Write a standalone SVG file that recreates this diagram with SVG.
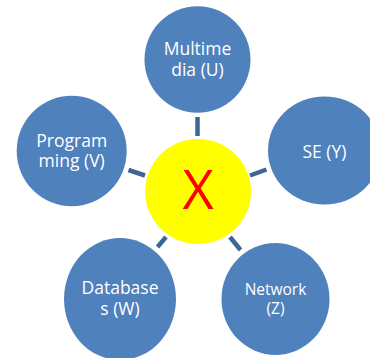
<svg xmlns="http://www.w3.org/2000/svg" width="370" height="358" viewBox="0 0 370 358">
<style>
.node{fill:#4F81BD;}
.lbl{fill:#FFFFFF;font-family:"Open Sans","Liberation Sans",sans-serif;font-size:17.5px;text-anchor:middle;}
.small{font-size:15.5px;}
.conn{stroke:#3C6694;stroke-width:4.5;fill:none;}
</style>
<rect width="370" height="358" fill="#FFFFFF"/>
<g id="connectors">
<line class="conn" x1="197.5" y1="117" x2="197.5" y2="136"/>
<line class="conn" x1="128.5" y1="170" x2="145" y2="175.5"/>
<line class="conn" x1="250" y1="175.5" x2="266.5" y2="169.5"/>
<line class="conn" x1="157.5" y1="247" x2="166" y2="237"/>
<line class="conn" x1="230" y1="237" x2="240.5" y2="250"/>
</g>
<g id="center">
<ellipse cx="198" cy="191.5" rx="53" ry="52.5" fill="#FFFF00"/>
<text x="198" y="209" font-family="'Open Sans','Liberation Sans',sans-serif" font-size="54" fill="#FF0000" text-anchor="middle">X</text>
</g>
<g id="multimedia">
<ellipse class="node" cx="197.5" cy="59.5" rx="53" ry="53.3"/>
<text class="lbl"><tspan x="197.5" y="55">Multime</tspan><tspan x="197.5" y="75.5">dia (U)</tspan></text>
</g>
<g id="programming">
<ellipse class="node" cx="71.7" cy="151" rx="55" ry="55.3"/>
<text class="lbl"><tspan x="71.7" y="146.5">Program</tspan><tspan x="71.7" y="167">ming (V)</tspan></text>
</g>
<g id="se">
<ellipse class="node" cx="324.5" cy="150.5" rx="56.5" ry="54"/>
<text class="lbl" x="324.5" y="158">SE (Y)</text>
</g>
<g id="databases">
<ellipse class="node" cx="120" cy="299" rx="56" ry="61"/>
<text class="lbl"><tspan x="120" y="294">Database</tspan><tspan x="120" y="314.5">s (W)</tspan></text>
</g>
<g id="network">
<ellipse class="node" cx="275.5" cy="299" rx="54" ry="56"/>
<text class="lbl small"><tspan x="275.5" y="295">Network</tspan><tspan x="275.5" y="313.5">(Z)</tspan></text>
</g>
</svg>
